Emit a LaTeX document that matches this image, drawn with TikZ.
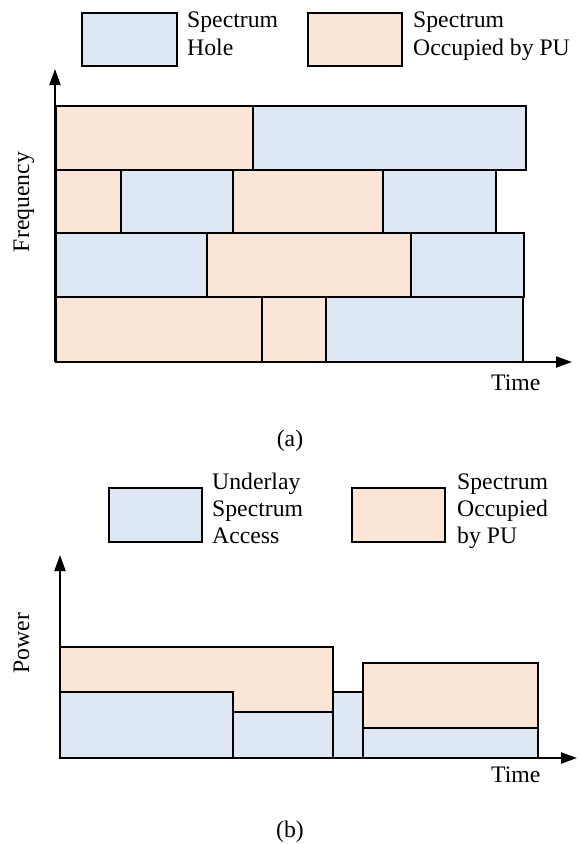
\documentclass[tikz,border=0pt]{standalone}
\usepackage{fontspec}
\setmainfont{Liberation Serif}
\usetikzlibrary{arrows.meta}
\definecolor{holeblue}{HTML}{DDE8F4}
\definecolor{puorange}{HTML}{FBE5D6}
\begin{document}
\begin{tikzpicture}[x=1pt,y=-1pt,
  hole/.style={draw=black, line width=2pt, fill=holeblue},
  occ/.style={draw=black, line width=2pt, fill=puorange},
  axis/.style={line width=2pt, -{Triangle[length=16pt,width=11pt]}},
  lbl/.style={font=\fontsize{23.7}{27.5}\selectfont, inner sep=0pt, anchor=base west},
  ylbl/.style={font=\fontsize{23.7}{27.5}\selectfont, inner sep=0pt, anchor=base, rotate=90},
]
\useasboundingbox (0,0) rectangle (579,844);

% ---------- (a) spectrum holes in time and frequency ----------
% legend
\draw[hole] (82,13) rectangle (177,66);
\node[lbl] (lgAholeA) at (187,27) {Spectrum};
\node[lbl] (lgAholeB) at (187,55) {Hole};
\draw[occ] (308,13) rectangle (402,66);
\node[lbl] (lgAoccA) at (413,27) {Spectrum};
\node[lbl] (lgAoccB) at (413,55) {Occupied by PU};

% frequency bands over time
\draw[occ]  (56,106) rectangle (253,170);
\draw[hole] (253,106) rectangle (526,170);
\draw[occ]  (56,170) rectangle (121,233);
\draw[hole] (121,170) rectangle (233,233);
\draw[occ]  (233,170) rectangle (383,233);
\draw[hole] (383,170) rectangle (496,233);
\draw[hole] (56,233) rectangle (207,297);
\draw[occ]  (207,233) rectangle (411,297);
\draw[hole] (411,233) rectangle (524,297);
\draw[occ]  (56,297) rectangle (262,362);
\draw[occ]  (262,297) rectangle (326,362);
\draw[hole] (326,297) rectangle (523,362);

% axes
\coordinate (oA) at (55,362);
\coordinate (yA) at (55,69);
\coordinate (xA) at (572,362);
\draw[axis] (oA) -- (yA);
\draw[axis] (oA) -- (xA);
\node[ylbl] (freq) at (29,202) {Frequency};
\node[lbl] (timeA) at (491,390) {Time};
\node[lbl, anchor=base] (capA) at (290,446) {(a)};

% ---------- (b) underlay access below the PU power ----------
% legend
\draw[hole] (109,488) rectangle (202,542);
\node[lbl] (lgBuA) at (212,489) {Underlay};
\node[lbl] (lgBuB) at (212,516) {Spectrum};
\node[lbl] (lgBuC) at (212,543) {Access};
\draw[occ] (352,488) rectangle (445,542);
\node[lbl] (lgBoA) at (457,489) {Spectrum};
\node[lbl] (lgBoB) at (457,516) {Occupied};
\node[lbl] (lgBoC) at (457,543) {by PU};

% power levels
\draw[occ]  (60,647) -- (333,647) -- (333,712) -- (233,712) -- (233,692) -- (60,692) -- cycle;
\draw[hole] (60,692) rectangle (233,758);
\draw[hole] (233,712) rectangle (333,758);
\draw[hole] (333,692) rectangle (363,758);
\draw[occ]  (363,663) rectangle (538,728);
\draw[hole] (363,728) rectangle (538,758);

% axes
\coordinate (oB) at (60,758);
\coordinate (yB) at (60,555);
\coordinate (xB) at (577,758);
\draw[axis] (oB) -- (yB);
\draw[axis] (oB) -- (xB);
\node[ylbl] (power) at (29,643) {Power};
\node[lbl] (timeB) at (491,782) {Time};
\node[lbl, anchor=base] (capB) at (290,837) {(b)};
\end{tikzpicture}
\end{document}
